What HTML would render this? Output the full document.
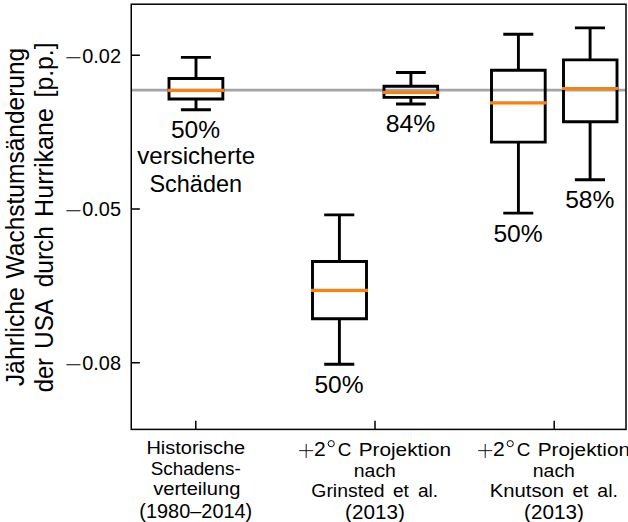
<!DOCTYPE html>
<html><head><meta charset="utf-8">
<style>
html,body{margin:0;padding:0;background:#fff;}
body{width:628px;height:522px;overflow:hidden;}
svg{display:block;font-family:"Liberation Sans",sans-serif;}
</style></head><body>
<svg width="628" height="522" viewBox="0 0 628 522">
<rect width="628" height="522" fill="#fff"/>
<line x1="131.25" x2="626.0" y1="90.15" y2="90.15" stroke="#a4a4a4" stroke-width="2.8"/>
<g stroke="#000" stroke-width="2.9" fill="none">
<path stroke-linecap="square" stroke-linejoin="miter" d="M169.0 99.05H222.85V78.5H169.0V99.05"/>
<path d="M196.0 78.5V57.4M196.0 99.05V109.7M180.9 57.4H210.9M180.9 109.7H210.9"/>
<path stroke-linecap="square" stroke-linejoin="miter" d="M312.5 318.7H366.5V261.5H312.5V318.7"/>
<path d="M339.4 261.5V214.9M339.4 318.7V364.3M324.2 214.9H354.3M324.2 364.3H354.3"/>
<path stroke-linecap="square" stroke-linejoin="miter" d="M384.0 97.35H437.65V86.25H384.0V97.35"/>
<path d="M410.9 86.25V72.5M410.9 97.35V104.0M396.0 72.5H425.8M396.0 104.0H425.8"/>
<path stroke-linecap="square" stroke-linejoin="miter" d="M491.5 142.1H545.2V70.3H491.5V142.1"/>
<path d="M518.4 70.3V34.3M518.4 142.1V213.15M503.3 34.3H533.3M503.3 213.15H533.3"/>
<path stroke-linecap="square" stroke-linejoin="miter" d="M563.5 121.75H617.0V59.9H563.5V121.75"/>
<path d="M590.1 59.9V27.9M590.1 121.75V179.8M574.9 27.9H605.0M574.9 179.8H605.0"/>
</g>
<g stroke="#ff7f0e" stroke-width="3.2">
<line x1="167.5" x2="224.35" y1="90.3" y2="90.3"/>
<line x1="311.0" x2="368.0" y1="290.35" y2="290.35"/>
<line x1="382.5" x2="439.15" y1="92.4" y2="92.4"/>
<line x1="490.0" x2="546.7" y1="102.8" y2="102.8"/>
<line x1="562.0" x2="618.5" y1="88.5" y2="88.5"/>
</g>
<rect x="131.25" y="4.2" width="494.75" height="425.20" fill="none" stroke="#000" stroke-width="1.5"/>
<path d="M131.25 55.3H139.9M131.25 209.0H139.9M131.25 362.8H139.9M195.8 429.4V420.8M375.0 429.4V420.8M554.2 429.4V420.8" stroke="#000" stroke-width="1.5" fill="none"/>
<path d="M66.4 57.8H80.5M66.4 210.8H80.5M66.4 364.8H80.5" stroke="#000" stroke-width="1.05" fill="none"/>
<path d="M299.2 450.65H313.2M306.2 443.9V457.9" stroke="#000" stroke-width="0.9" fill="none"/><circle cx="331.2" cy="443.65" r="3.1" fill="none" stroke="#000" stroke-width="1"/>
<path d="M478.2 450.65H492.2M485.2 443.9V457.9" stroke="#000" stroke-width="0.9" fill="none"/><circle cx="510.2" cy="443.65" r="3.1" fill="none" stroke="#000" stroke-width="1"/>
<g fill="#000">
<text x="82.28" y="62.90" font-size="19.7px" textLength="38.73" lengthAdjust="spacingAndGlyphs">0.02</text>
<text x="82.28" y="215.90" font-size="19.7px" textLength="38.73" lengthAdjust="spacingAndGlyphs">0.05</text>
<text x="82.28" y="369.90" font-size="19.7px" textLength="38.73" lengthAdjust="spacingAndGlyphs">0.08</text>
<text x="170.93" y="138.00" font-size="24.8px" textLength="49.20" lengthAdjust="spacingAndGlyphs">50%</text>
<text x="137.20" y="164.40" font-size="23.8px" textLength="117.88" lengthAdjust="spacingAndGlyphs">versicherte</text>
<text x="149.47" y="191.70" font-size="24.3px" textLength="92.55" lengthAdjust="spacingAndGlyphs">Schäden</text>
<text x="314.43" y="393.00" font-size="24.8px" textLength="49.20" lengthAdjust="spacingAndGlyphs">50%</text>
<text x="385.73" y="132.05" font-size="24.8px" textLength="49.61" lengthAdjust="spacingAndGlyphs">84%</text>
<text x="493.43" y="242.05" font-size="24.8px" textLength="49.30" lengthAdjust="spacingAndGlyphs">50%</text>
<text x="565.13" y="208.05" font-size="24.8px" textLength="49.30" lengthAdjust="spacingAndGlyphs">58%</text>
<text x="146.44" y="453.80" font-size="19.1px" textLength="98.67" lengthAdjust="spacingAndGlyphs">Historische</text>
<text x="150.71" y="474.70" font-size="19.1px" textLength="90.07" lengthAdjust="spacingAndGlyphs">Schadens-</text>
<text x="153.20" y="495.40" font-size="19.1px" textLength="87.13" lengthAdjust="spacingAndGlyphs">verteilung</text>
<text x="139.37" y="517.80" font-size="19.7px" textLength="112.86" lengthAdjust="spacingAndGlyphs">(1980–2014)</text>
<text x="314.11" y="455.80" font-size="19.7px" textLength="11.75" lengthAdjust="spacingAndGlyphs">2</text>
<text x="337.81" y="455.80" font-size="19.1px" textLength="13.64" lengthAdjust="spacingAndGlyphs">C</text>
<text x="358.68" y="455.80" font-size="19.1px" textLength="92.39" lengthAdjust="spacingAndGlyphs">Projektion</text>
<text x="353.78" y="476.80" font-size="19.1px" textLength="42.16" lengthAdjust="spacingAndGlyphs">nach</text>
<text x="311.29" y="496.60" font-size="19.1px" textLength="73.40" lengthAdjust="spacingAndGlyphs">Grinsted</text>
<text x="393.00" y="496.60" font-size="19.1px" textLength="15.93" lengthAdjust="spacingAndGlyphs">et</text>
<text x="418.00" y="496.60" font-size="19.1px" textLength="20.12" lengthAdjust="spacingAndGlyphs">al.</text>
<text x="345.13" y="519.20" font-size="19.7px" textLength="59.74" lengthAdjust="spacingAndGlyphs">(2013)</text>
<text x="493.11" y="455.80" font-size="19.7px" textLength="11.75" lengthAdjust="spacingAndGlyphs">2</text>
<text x="516.81" y="455.80" font-size="19.1px" textLength="13.64" lengthAdjust="spacingAndGlyphs">C</text>
<text x="537.68" y="455.80" font-size="19.1px" textLength="92.39" lengthAdjust="spacingAndGlyphs">Projektion</text>
<text x="532.78" y="476.80" font-size="19.1px" textLength="42.16" lengthAdjust="spacingAndGlyphs">nach</text>
<text x="489.82" y="496.60" font-size="19.1px" textLength="74.22" lengthAdjust="spacingAndGlyphs">Knutson</text>
<text x="572.40" y="496.60" font-size="19.1px" textLength="16.04" lengthAdjust="spacingAndGlyphs">et</text>
<text x="597.39" y="496.60" font-size="19.1px" textLength="20.57" lengthAdjust="spacingAndGlyphs">al.</text>
<text x="524.13" y="519.20" font-size="19.7px" textLength="59.74" lengthAdjust="spacingAndGlyphs">(2013)</text>
<text transform="translate(23.70,385.90) rotate(-90)" x="-0.39" y="0" font-size="25.5px" textLength="99.19" lengthAdjust="spacingAndGlyphs">Jährliche</text>
<text transform="translate(23.70,278.40) rotate(-90)" x="0.00" y="0" font-size="25.5px" textLength="230.58" lengthAdjust="spacingAndGlyphs">Wachstumsänderung</text>
<text transform="translate(52.60,391.60) rotate(-90)" x="-0.74" y="0" font-size="25.5px" textLength="34.36" lengthAdjust="spacingAndGlyphs">der</text>
<text transform="translate(52.60,347.30) rotate(-90)" x="-1.51" y="0" font-size="25.5px" textLength="49.80" lengthAdjust="spacingAndGlyphs">USA</text>
<text transform="translate(52.60,286.50) rotate(-90)" x="-0.76" y="0" font-size="25.5px" textLength="61.14" lengthAdjust="spacingAndGlyphs">durch</text>
<text transform="translate(52.60,215.00) rotate(-90)" x="-1.96" y="0" font-size="25.5px" textLength="108.98" lengthAdjust="spacingAndGlyphs">Hurrikane</text>
<text transform="translate(52.60,95.90) rotate(-90)" x="-1.55" y="0" font-size="25.5px" textLength="55.01" lengthAdjust="spacingAndGlyphs">[p.p.]</text>
</g>
</svg>
</body></html>
